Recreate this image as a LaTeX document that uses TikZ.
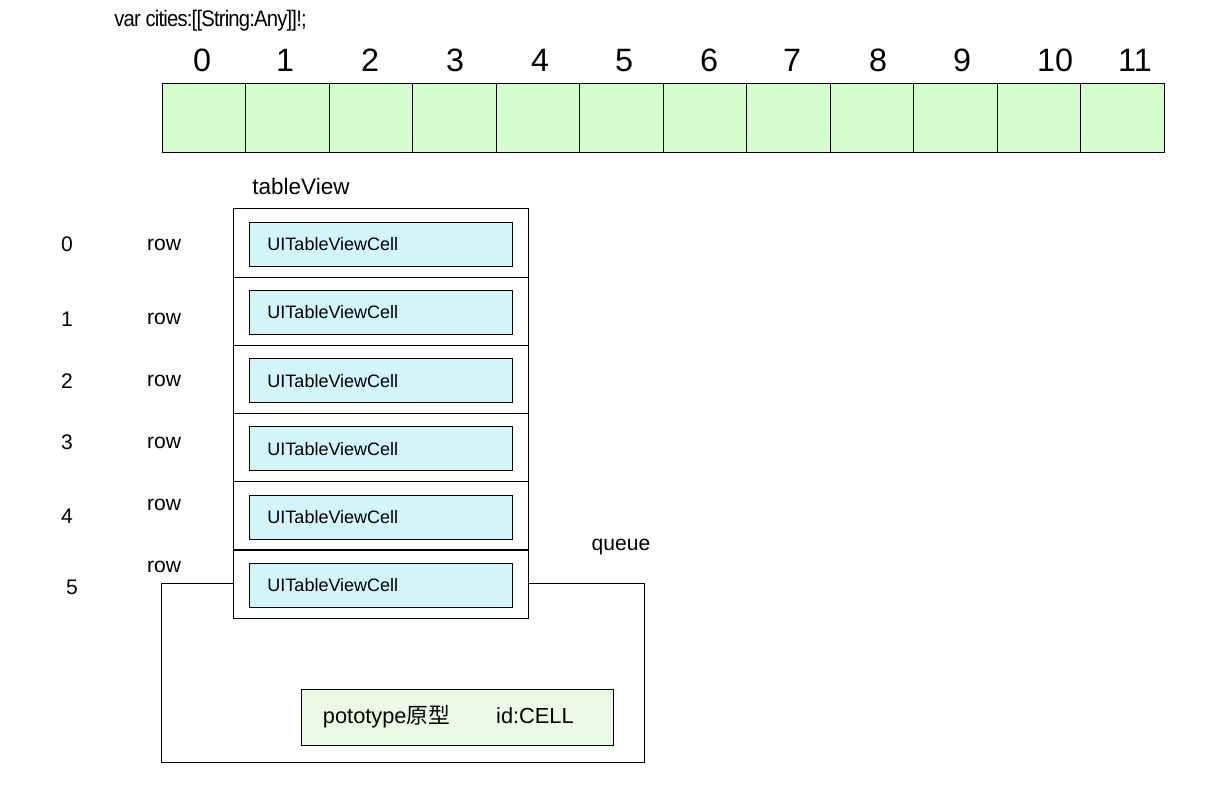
\documentclass[tikz,border=0pt]{standalone}
\usepackage{fontspec}
\setmainfont{Liberation Sans}
\newfontfamily\cjk{Noto Sans CJK SC}
\usepackage{graphicx}
\usepackage{xcolor}
\usepackage{tikz}
\usetikzlibrary{positioning}
\definecolor{mint}{RGB}{212,252,204}
\definecolor{ice}{RGB}{210,245,250}
\definecolor{pale}{RGB}{235,250,228}

\begin{document}
\begin{tikzpicture}[
    x=0.025cm, y=-0.025cm,
    slot/.style={rectangle, draw, line width=0.7pt, fill=mint, minimum width=2.0875cm, minimum height=1.7cm, inner sep=0pt},
    idx/.style={font=\fontsize{23}{26}\selectfont, inner sep=0pt, anchor=base},
    lbl/.style={font=\fontsize{15}{17}\selectfont, inner sep=0pt},
    rowbox/.style={rectangle, draw, line width=0.7pt, fill=white, minimum width=7.35cm, minimum height=1.7cm, inner sep=0pt},
    cellbox/.style={rectangle, draw, line width=0.7pt, fill=ice, text width=5.675cm, inner xsep=0.45cm, minimum height=1.1cm, align=left, font=\fontsize{12.8}{14}\selectfont},
    frame/.style={rectangle, draw, line width=0.7pt, minimum width=12.05cm, minimum height=4.45cm, inner sep=0pt}
]
\useasboundingbox (0,0) rectangle (1220,786);

% Array: cities
\node[font=\fontsize{16}{19}\selectfont\addfontfeature{LetterSpace=-4}, anchor=west, inner sep=0pt] (decl) at (114,21) {\scalebox{0.9}[1]{var cities:[[String:Any]]!;}};
\foreach \i in {0,...,11}
    \node[slot] (c\i) at ({203.75+83.5*\i},118) {};
\foreach \i/\x in {0/202,1/285,2/370,3/455,4/540,5/624,6/709,7/792,8/878,9/962,10/1055,11/1135}
    \node[idx] (n\i) at (\x,72) {\i};

% Queue (behind the table)
\node[frame] (queue) at (403,673) {};
\node[lbl] (qlabel) at (621,547) {queue};
\node[rectangle, draw, line width=0.7pt, fill=pale, text width=6.725cm, inner xsep=0.525cm, minimum height=1.4cm, align=left, font=\fontsize{15.5}{17}\selectfont] (proto) at (457.5,717) {pototype{\cjk 原型}\hspace{1.15cm}id:CELL};

% Table view
\node[lbl, font=\fontsize{16}{18}\selectfont] (tvlabel) at (301,186) {tableView};
\foreach \i in {0,...,5} {
    \node[rowbox] (r\i) at (381,{243+68.2*\i}) {};
    \node[cellbox] (u\i) at ([yshift=-0.03cm]r\i.center) {\raisebox{-2pt}{UITableViewCell}};
}

% Row labels
\foreach \i/\y in {0/244,1/319,2/381,3/442,4/516}
    \node[lbl] (k\i) at (67,\y) {\i};
\node[lbl] (k5) at (72,587) {5};
\foreach \i/\ry in {0/245,1/319,2/381,3/443,4/505,5/567}
    \node[lbl] (w\i) at (164,\ry) {row};

\end{tikzpicture}
\end{document}
